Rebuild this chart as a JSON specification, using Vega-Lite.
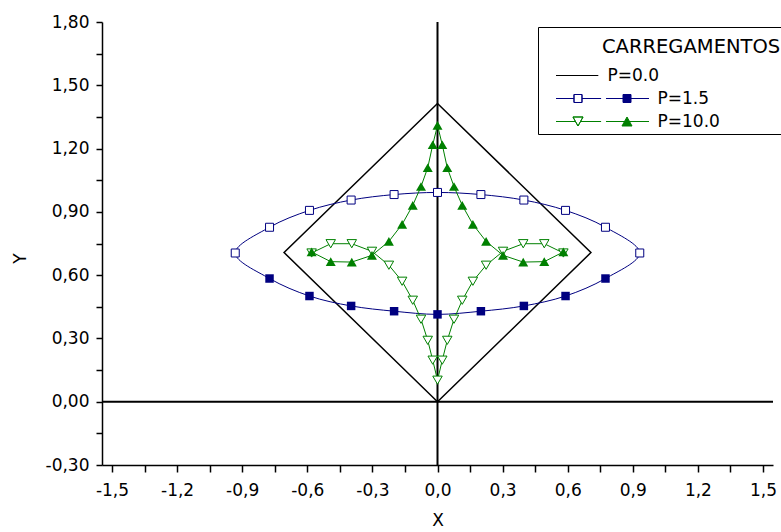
{
  "$schema": "https://vega.github.io/schema/vega-lite/v6.json",
  "width": 671,
  "height": 443,
  "autosize": {"type": "none"},
  "padding": {"left": 102, "top": 22, "right": 8, "bottom": 67},
  "background": "white",
  "config": {"view": {"stroke": null}, "font": "DejaVu Sans"},
  "data": {
    "values": [
      {"P": "P=0.0", "curve": "d", "i": 0, "x": 0, "y": 0, "m": "none"},
      {"P": "P=0.0", "curve": "d", "i": 1, "x": 0.707, "y": 0.707, "m": "none"},
      {"P": "P=0.0", "curve": "d", "i": 2, "x": 0, "y": 1.414, "m": "none"},
      {"P": "P=0.0", "curve": "d", "i": 3, "x": -0.707, "y": 0.707, "m": "none"},
      {"P": "P=0.0", "curve": "d", "i": 4, "x": 0, "y": 0, "m": "none"},

      {"P": "P=1.5", "curve": "b", "i": 0, "x": -0.932, "y": 0.705, "m": "os"},
      {"P": "P=1.5", "curve": "b", "i": 1, "x": -0.774, "y": 0.827, "m": "os"},
      {"P": "P=1.5", "curve": "b", "i": 2, "x": -0.59, "y": 0.907, "m": "os"},
      {"P": "P=1.5", "curve": "b", "i": 3, "x": -0.398, "y": 0.956, "m": "os"},
      {"P": "P=1.5", "curve": "b", "i": 4, "x": -0.2, "y": 0.982, "m": "os"},
      {"P": "P=1.5", "curve": "b", "i": 5, "x": 0, "y": 0.992, "m": "os"},
      {"P": "P=1.5", "curve": "b", "i": 6, "x": 0.2, "y": 0.982, "m": "os"},
      {"P": "P=1.5", "curve": "b", "i": 7, "x": 0.398, "y": 0.956, "m": "os"},
      {"P": "P=1.5", "curve": "b", "i": 8, "x": 0.59, "y": 0.907, "m": "os"},
      {"P": "P=1.5", "curve": "b", "i": 9, "x": 0.774, "y": 0.827, "m": "os"},
      {"P": "P=1.5", "curve": "b", "i": 10, "x": 0.932, "y": 0.705, "m": "os"},
      {"P": "P=1.5", "curve": "b", "i": 11, "x": 0.774, "y": 0.584, "m": "fs"},
      {"P": "P=1.5", "curve": "b", "i": 12, "x": 0.59, "y": 0.501, "m": "fs"},
      {"P": "P=1.5", "curve": "b", "i": 13, "x": 0.398, "y": 0.454, "m": "fs"},
      {"P": "P=1.5", "curve": "b", "i": 14, "x": 0.2, "y": 0.429, "m": "fs"},
      {"P": "P=1.5", "curve": "b", "i": 15, "x": 0, "y": 0.414, "m": "fs"},
      {"P": "P=1.5", "curve": "b", "i": 16, "x": -0.2, "y": 0.429, "m": "fs"},
      {"P": "P=1.5", "curve": "b", "i": 17, "x": -0.398, "y": 0.454, "m": "fs"},
      {"P": "P=1.5", "curve": "b", "i": 18, "x": -0.59, "y": 0.501, "m": "fs"},
      {"P": "P=1.5", "curve": "b", "i": 19, "x": -0.774, "y": 0.584, "m": "fs"},

      {"P": "P=10.0", "curve": "gf", "i": 0, "x": -0.58, "y": 0.71, "m": "ft"},
      {"P": "P=10.0", "curve": "gf", "i": 1, "x": -0.492, "y": 0.664, "m": "ft"},
      {"P": "P=10.0", "curve": "gf", "i": 2, "x": -0.395, "y": 0.662, "m": "ft"},
      {"P": "P=10.0", "curve": "gf", "i": 3, "x": -0.302, "y": 0.694, "m": "ft"},
      {"P": "P=10.0", "curve": "gf", "i": 4, "x": -0.224, "y": 0.76, "m": "ft"},
      {"P": "P=10.0", "curve": "gf", "i": 5, "x": -0.163, "y": 0.841, "m": "ft"},
      {"P": "P=10.0", "curve": "gf", "i": 6, "x": -0.114, "y": 0.931, "m": "ft"},
      {"P": "P=10.0", "curve": "gf", "i": 7, "x": -0.076, "y": 1.02, "m": "ft"},
      {"P": "P=10.0", "curve": "gf", "i": 8, "x": -0.045, "y": 1.109, "m": "ft"},
      {"P": "P=10.0", "curve": "gf", "i": 9, "x": -0.022, "y": 1.218, "m": "ft"},
      {"P": "P=10.0", "curve": "gf", "i": 10, "x": 0, "y": 1.31, "m": "ft"},
      {"P": "P=10.0", "curve": "gf", "i": 11, "x": 0.022, "y": 1.218, "m": "ft"},
      {"P": "P=10.0", "curve": "gf", "i": 12, "x": 0.045, "y": 1.109, "m": "ft"},
      {"P": "P=10.0", "curve": "gf", "i": 13, "x": 0.076, "y": 1.02, "m": "ft"},
      {"P": "P=10.0", "curve": "gf", "i": 14, "x": 0.114, "y": 0.931, "m": "ft"},
      {"P": "P=10.0", "curve": "gf", "i": 15, "x": 0.163, "y": 0.841, "m": "ft"},
      {"P": "P=10.0", "curve": "gf", "i": 16, "x": 0.224, "y": 0.76, "m": "ft"},
      {"P": "P=10.0", "curve": "gf", "i": 17, "x": 0.302, "y": 0.694, "m": "ft"},
      {"P": "P=10.0", "curve": "gf", "i": 18, "x": 0.395, "y": 0.662, "m": "ft"},
      {"P": "P=10.0", "curve": "gf", "i": 19, "x": 0.492, "y": 0.664, "m": "ft"},
      {"P": "P=10.0", "curve": "gf", "i": 20, "x": 0.58, "y": 0.71, "m": "ft"},

      {"P": "P=10.0", "curve": "go", "i": 0, "x": -0.58, "y": 0.705, "m": "ot"},
      {"P": "P=10.0", "curve": "go", "i": 1, "x": -0.492, "y": 0.749, "m": "ot"},
      {"P": "P=10.0", "curve": "go", "i": 2, "x": -0.395, "y": 0.749, "m": "ot"},
      {"P": "P=10.0", "curve": "go", "i": 3, "x": -0.302, "y": 0.713, "m": "ot"},
      {"P": "P=10.0", "curve": "go", "i": 4, "x": -0.224, "y": 0.647, "m": "ot"},
      {"P": "P=10.0", "curve": "go", "i": 5, "x": -0.163, "y": 0.571, "m": "ot"},
      {"P": "P=10.0", "curve": "go", "i": 6, "x": -0.114, "y": 0.481, "m": "ot"},
      {"P": "P=10.0", "curve": "go", "i": 7, "x": -0.076, "y": 0.391, "m": "ot"},
      {"P": "P=10.0", "curve": "go", "i": 8, "x": -0.045, "y": 0.291, "m": "ot"},
      {"P": "P=10.0", "curve": "go", "i": 9, "x": -0.022, "y": 0.197, "m": "ot"},
      {"P": "P=10.0", "curve": "go", "i": 10, "x": 0, "y": 0.102, "m": "ot"},
      {"P": "P=10.0", "curve": "go", "i": 11, "x": 0.022, "y": 0.197, "m": "ot"},
      {"P": "P=10.0", "curve": "go", "i": 12, "x": 0.045, "y": 0.291, "m": "ot"},
      {"P": "P=10.0", "curve": "go", "i": 13, "x": 0.076, "y": 0.391, "m": "ot"},
      {"P": "P=10.0", "curve": "go", "i": 14, "x": 0.114, "y": 0.481, "m": "ot"},
      {"P": "P=10.0", "curve": "go", "i": 15, "x": 0.163, "y": 0.571, "m": "ot"},
      {"P": "P=10.0", "curve": "go", "i": 16, "x": 0.224, "y": 0.647, "m": "ot"},
      {"P": "P=10.0", "curve": "go", "i": 17, "x": 0.302, "y": 0.713, "m": "ot"},
      {"P": "P=10.0", "curve": "go", "i": 18, "x": 0.395, "y": 0.749, "m": "ot"},
      {"P": "P=10.0", "curve": "go", "i": 19, "x": 0.492, "y": 0.749, "m": "ot"},
      {"P": "P=10.0", "curve": "go", "i": 20, "x": 0.58, "y": 0.705, "m": "ot"}
    ]
  },
  "encoding": {
    "x": {
      "field": "x", "type": "quantitative",
      "scale": {"domain": [-1.546, 1.546], "nice": false, "zero": false},
      "axis": {
        "title": "X", "grid": false,
        "values": [-1.5, -1.35, -1.2, -1.05, -0.9, -0.75, -0.6, -0.45, -0.3, -0.15, 0, 0.15, 0.3, 0.45, 0.6, 0.75, 0.9, 1.05, 1.2, 1.35, 1.5],
        "labelExpr": "abs(round(datum.value/0.15)) % 2 === 0 ? replace(replace(format(datum.value, '.1f'), '.', ','), '−', '-') : ''",
        "labelOverlap": false, "labelFlush": false,
        "tickSize": 7, "tickWidth": 1.5, "tickColor": "black",
        "domainColor": "black", "domainWidth": 1.5,
        "labelFont": "DejaVu Sans", "labelFontSize": 17, "labelColor": "black", "labelPadding": 10,
        "titleFont": "DejaVu Sans", "titleFontSize": 17, "titleFontWeight": "normal", "titleColor": "black", "titlePadding": 14,
        "encode": {"ticks": {"update": {"y2": {"signal": "abs(round(datum.value/0.15)) % 2 === 0 ? 7 : 4"}}}}
      }
    },
    "y": {
      "field": "y", "type": "quantitative",
      "scale": {"domain": [-0.3, 1.8], "nice": false, "zero": false},
      "axis": {
        "title": "Y", "grid": false,
        "values": [-0.3, -0.15, 0, 0.15, 0.3, 0.45, 0.6, 0.75, 0.9, 1.05, 1.2, 1.35, 1.5, 1.65, 1.8],
        "labelExpr": "abs(round(datum.value/0.15)) % 2 === 0 ? replace(replace(format(datum.value, '.2f'), '.', ','), '−', '-') : ''",
        "labelOverlap": false, "labelFlush": false,
        "tickSize": 6, "tickWidth": 1.5, "tickColor": "black",
        "domainColor": "black", "domainWidth": 1.5,
        "labelFont": "DejaVu Sans", "labelFontSize": 17, "labelColor": "black", "labelPadding": 7,
        "titleFont": "DejaVu Sans", "titleFontSize": 17, "titleFontWeight": "normal", "titleColor": "black", "titlePadding": 16, "titleY": 236,
        "encode": {"ticks": {"update": {"x2": {"signal": "abs(round(datum.value/0.15)) % 2 === 0 ? -6 : -3"}}}}
      }
    }
  },
  "layer": [
    {
      "data": {"values": [{"x": 0, "y": 0}]},
      "mark": {"type": "rule", "color": "black", "strokeWidth": 2},
      "encoding": {"y": {"value": 0}, "y2": {"value": "height"}}
    },
    {
      "data": {"values": [{"x": 0, "y": 0}]},
      "mark": {"type": "rule", "color": "black", "strokeWidth": 2},
      "encoding": {"x": {"value": 0}, "x2": {"value": "width"}}
    },
    {
      "transform": [{"filter": "datum.curve === 'd'"}],
      "mark": {"type": "line", "color": "black", "strokeWidth": 1.5},
      "encoding": {"order": {"field": "i", "type": "quantitative"}}
    },
    {
      "transform": [{"filter": "datum.curve === 'b'"}],
      "mark": {"type": "line", "color": "#000080", "strokeWidth": 1, "interpolate": "cardinal-closed", "tension": 0},
      "encoding": {"order": {"field": "i", "type": "quantitative"}}
    },
    {
      "transform": [{"filter": "datum.curve === 'gf' || datum.curve === 'go'"}],
      "mark": {"type": "line", "color": "#008000", "strokeWidth": 1},
      "encoding": {"detail": {"field": "curve"}, "order": {"field": "i", "type": "quantitative"}}
    },
    {
      "transform": [{"filter": "datum.m === 'os'"}],
      "mark": {"type": "point", "shape": "square", "filled": true, "fill": "white", "stroke": "#000080", "strokeWidth": 1, "size": 64, "opacity": 1}
    },
    {
      "transform": [{"filter": "datum.m === 'fs'"}],
      "mark": {"type": "point", "shape": "square", "filled": true, "color": "#000080", "size": 72, "opacity": 1}
    },
    {
      "transform": [{"filter": "datum.m === 'ot'"}],
      "mark": {"type": "point", "shape": "triangle-down", "filled": true, "fill": "white", "stroke": "#008000", "strokeWidth": 1, "size": 90, "opacity": 1}
    },
    {
      "transform": [{"filter": "datum.m === 'ft'"}],
      "mark": {"type": "point", "shape": "triangle-up", "filled": true, "color": "#008000", "size": 100, "opacity": 1}
    },
    {
      "mark": {"type": "point", "filled": true, "opacity": 0},
      "encoding": {
        "color": {
          "field": "P", "type": "nominal",
          "scale": {"domain": ["P=0.0", "P=1.5", "P=10.0"], "range": ["#000000", "#000080", "#008000"]},
          "legend": {
            "title": "CARREGAMENTOS", "orient": "none", "legendX": 436, "legendY": 5,
            "padding": 2, "strokeColor": "black", "fillColor": "white", "cornerRadius": 0,
            "titleFont": "DejaVu Sans", "titleFontSize": 19.5, "titleFontWeight": "normal", "titleColor": "black", "titleLimit": 1000, "titlePadding": 17,
            "labelFont": "DejaVu Sans", "labelFontSize": 17, "labelColor": "black", "labelLimit": 1000, "labelOffset": 8,
            "symbolSize": 8649, "symbolStrokeWidth": 1, "symbolOffset": 15.5, "symbolOpacity": 1,
            "clipHeight": 20, "rowPadding": 3,
            "encode": {
              "title": {"update": {"dx": {"value": 62}, "dy": {"value": 9}}},
              "labels": {"update": {"dx": {"signal": "datum.value === 'P=0.0' ? -50 : 0"}}},
              "symbols": {"update": {"stroke": {"scale": "color", "field": "value"}, "opacity": {"value": 1}}}
            }
          }
        },
        "shape": {
          "field": "P", "type": "nominal",
          "scale": {
            "domain": ["P=0.0", "P=1.5", "P=10.0"],
            "range": [
              "M-1,0H-0.09",
              "M-1,0H-0.613M-0.441,0H-0.03M0.075,0H1M-0.613,-0.086H-0.441V0.086H-0.613ZM-0.613,-0.086V0.086H-0.441V-0.086ZM0.441,-0.086H0.613V0.086H0.441Z",
              "M-1,0H-0.581M-0.473,0H-0.03M0.075,0H1M-0.635,-0.097L-0.419,-0.097L-0.527,0.097ZM-0.635,-0.097L-0.527,0.097L-0.419,-0.097ZM0.419,0.097L0.635,0.097L0.527,-0.097Z"
            ]
          }
        }
      }
    }
  ]
}
